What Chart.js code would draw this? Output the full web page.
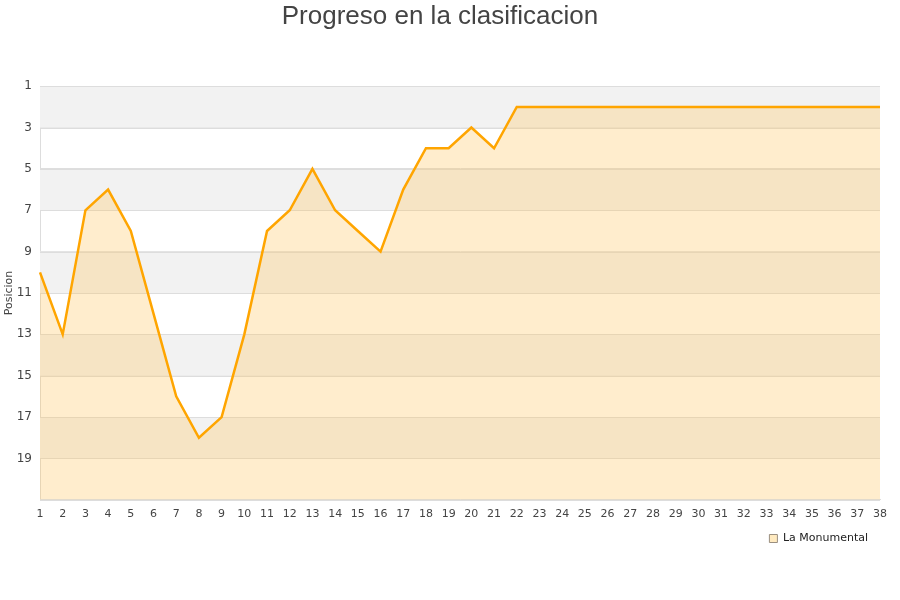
<!DOCTYPE html>
<html lang="es">
<head>
    <meta charset="UTF-8">
    <title>Progreso en la clasificacion</title>
    <script src="https://cdn.jsdelivr.net/npm/chart.js"></script>
    <style>
        html, body { margin: 0; padding: 0; background: #fff; }
        #wrap { width: 900px; height: 600px; }
    </style>
</head>
<body>
    <div id="wrap"><canvas id="chart" width="900" height="600"></canvas></div>

    <script>
        // Jornadas
        const jornadas = [];
        for (let j = 1; j <= 38; j++) jornadas.push(String(j));

        // Posicion de La Monumental en cada jornada
        const posiciones = [10, 13, 7, 6, 8, 12, 16, 18, 17, 13,
                            8, 7, 5, 7, 8, 9, 6, 4, 4, 3,
                            4, 2, 2, 2, 2, 2, 2, 2, 2, 2,
                            2, 2, 2, 2, 2, 2, 2, 2];

        // Franjas grises del fondo (de posicion a posicion)
        const franjas = [[1, 3], [5, 7], [9, 11], [13, 15], [17, 19]];

        const bandas = {
            id: 'bandas',
            beforeDatasetsDraw(chart) {
                const { ctx, chartArea, scales } = chart;
                ctx.save();
                ctx.fillStyle = '#f2f2f2';
                franjas.forEach(([a, b]) => {
                    const y1 = scales.y.getPixelForValue(a);
                    const y2 = scales.y.getPixelForValue(b);
                    ctx.fillRect(chartArea.left, y1, chartArea.right - chartArea.left, y2 - y1);
                });
                // redibujar lineas de la rejilla encima de las franjas
                ctx.strokeStyle = '#dddddd';
                ctx.lineWidth = 1;
                scales.y.ticks.forEach(t => {
                    const y = Math.round(scales.y.getPixelForValue(t.value)) + 0.5;
                    ctx.beginPath();
                    ctx.moveTo(chartArea.left, y);
                    ctx.lineTo(chartArea.right, y);
                    ctx.stroke();
                });
                ctx.restore();
            }
        };

        const ctx = document.getElementById('chart').getContext('2d');
        new Chart(ctx, {
            type: 'line',
            data: {
                labels: jornadas,
                datasets: [{
                    label: 'La Monumental',
                    data: posiciones,
                    borderColor: '#ffa500',
                    backgroundColor: 'rgba(255, 196, 90, 0.3)',
                    borderWidth: 2.5,
                    pointRadius: 0,
                    tension: 0,
                    fill: { value: 21 }
                }]
            },
            plugins: [bandas],
            options: {
                responsive: false,
                animation: false,
                layout: { padding: { left: 0, right: 20, top: 0, bottom: 46 } },
                plugins: {
                    title: {
                        display: true,
                        text: 'Progreso en la clasificacion',
                        color: '#444',
                        font: { family: 'Liberation Sans, Arial, sans-serif', size: 26, weight: 'normal' },
                        padding: { top: 1, bottom: 54 }
                    },
                    legend: {
                        position: 'bottom',
                        align: 'end',
                        labels: {
                            boxWidth: 8,
                            boxHeight: 8,
                            color: '#222',
                            font: { family: 'DejaVu Sans', size: 11 },
                            padding: 12,
                            generateLabels: chart => chart.data.datasets.map((ds, i) => ({
                                text: ds.label,
                                fillStyle: 'rgba(255, 220, 150, 0.6)',
                                strokeStyle: '#9a8f80',
                                lineWidth: 1,
                                fontColor: '#222',
                                datasetIndex: i
                            }))
                        }
                    },
                    tooltip: { enabled: false }
                },
                scales: {
                    x: {
                        offset: false,
                        grid: { display: false },
                        border: { color: '#dddddd' },
                        afterFit(scale) { scale.paddingRight = 0; },
                        ticks: {
                            color: '#444',
                            padding: 0,
                            font: { family: 'DejaVu Sans', size: 11 },
                            maxRotation: 0,
                            autoSkip: false
                        }
                    },
                    y: {
                        reverse: true,
                        min: 1,
                        max: 21,
                        border: { color: '#dddddd' },
                        grid: { color: '#dddddd', drawTicks: false },
                        afterFit(scale) { scale.width = 40; },
                        title: {
                            display: true,
                            text: 'Posicion',
                            color: '#444',
                            font: { family: 'DejaVu Sans', size: 11 },
                            padding: { top: 3, bottom: 0 }
                        },
                        ticks: {
                            stepSize: 2,
                            color: '#444',
                            padding: 8,
                            font: { family: 'DejaVu Sans', size: 12 },
                            callback: v => (v === 21 ? '' : v)
                        }
                    }
                }
            }
        });
    </script>
</body>
</html>
